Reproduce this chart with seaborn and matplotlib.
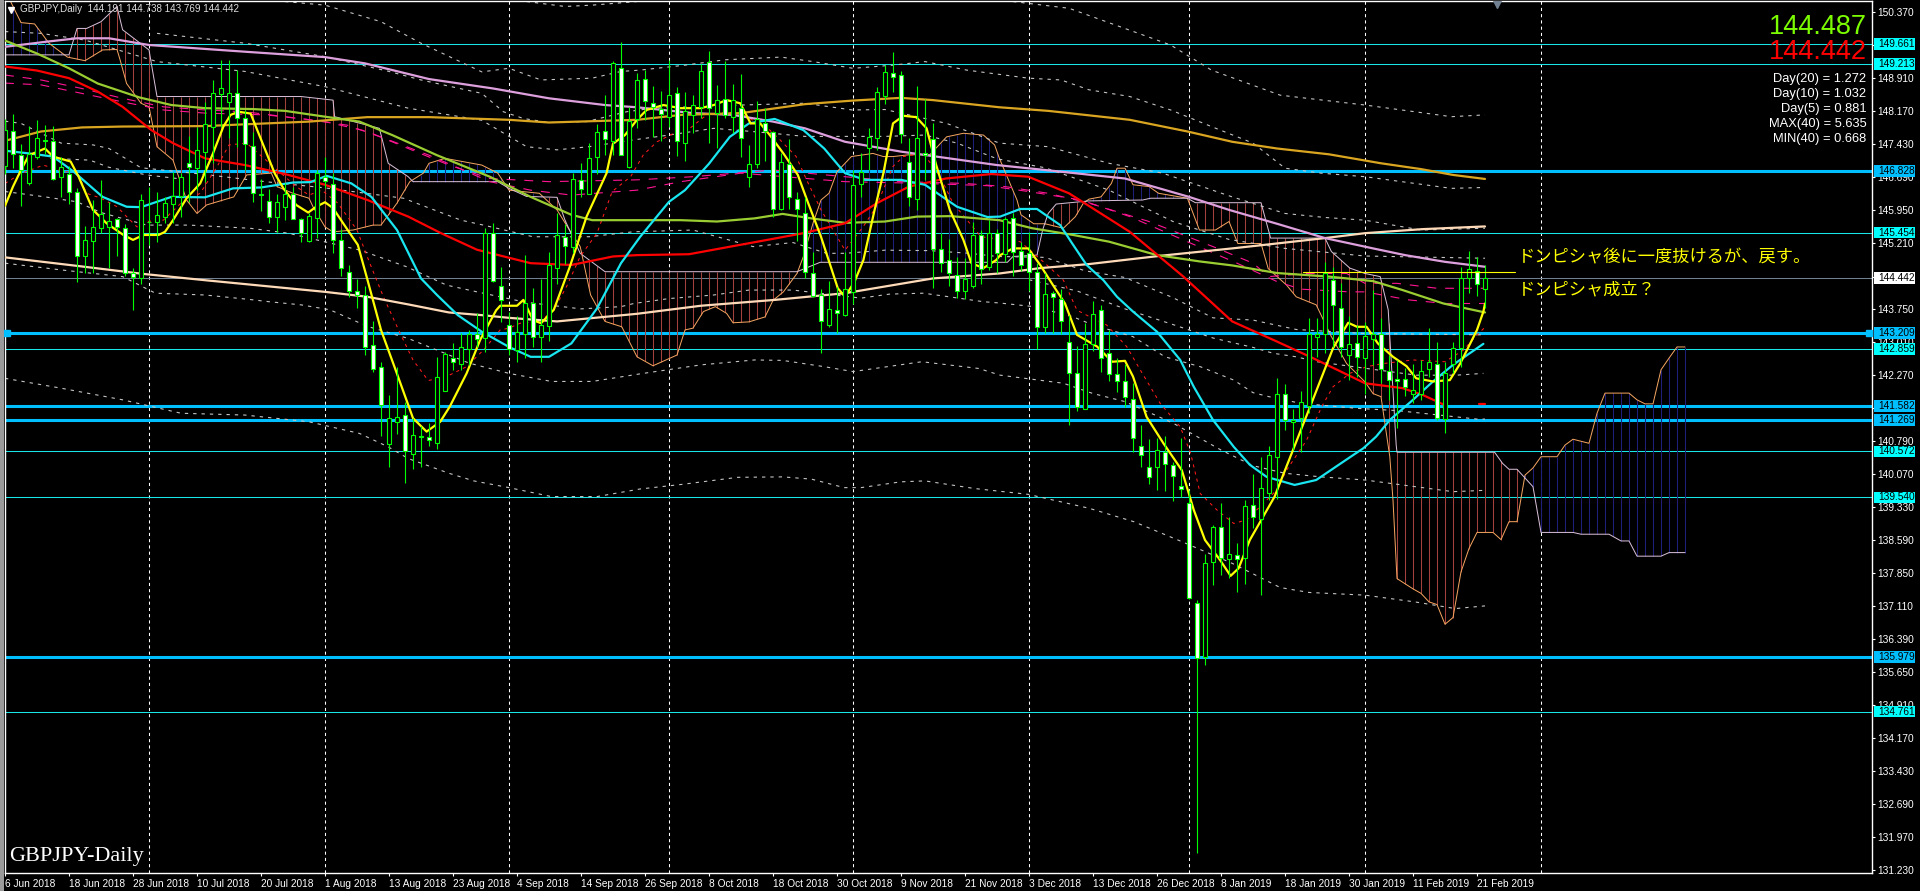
import numpy as np
import matplotlib
matplotlib.use("Agg")
import matplotlib.pyplot as plt
from matplotlib.patches import Rectangle
from matplotlib.transforms import blended_transform_factory
import seaborn as sns

# ---------- candles ----------
open_ = [146.95,147.71,147.18,146.57,147.15,147.53,147.49,146.69,146.75,146.37,144.94,145.27,145.56,145.57,145.75,145.55,144.54,144.45,145.70,145.70,
145.79,146.08,146.28,147.00,146.89,147.26,147.82,148.54,148.37,148.56,148.00,147.39,146.31,146.15,145.81,146.03,146.31,145.75,145.27,145.77,
146.70,146.53,145.28,144.58,144.16,144.07,142.94,142.46,140.74,141.22,141.37,140.52,140.90,140.90,140.76,141.92,142.65,142.53,142.86,143.18,
143.09,145.45,144.27,143.38,142.83,143.19,143.87,143.12,143.37,144.67,145.36,145.14,146.63,146.32,147.13,147.71,147.50,149.12,146.91,147.98,
148.87,148.35,148.22,148.03,148.56,147.45,148.08,148.26,149.27,148.12,148.44,148.04,148.23,146.69,146.98,147.91,147.69,145.99,146.99,146.20,
145.90,144.54,144.05,143.40,143.72,143.62,144.12,146.53,147.33,147.57,148.51,149.01,148.96,147.02,146.20,147.22,147.54,145.08,144.83,144.51,
144.16,144.27,145.41,144.69,145.44,144.97,145.77,145.05,145.00,144.57,143.35,144.11,143.98,143.02,142.31,141.51,142.97,143.72,142.77,142.29,
142.15,141.73,140.70,140.21,140.23,140.55,140.26,139.79,139.41,137.18,135.99,138.11,138.89,138.16,138.26,138.18,139.37,139.06,139.65,140.44,
141.84,141.22,141.31,141.59,143.13,143.20,144.39,143.78,142.73,142.98,142.65,143.07,143.20,142.37,142.18,142.18,141.86,141.85,142.40,142.51,
141.30,142.53,142.87,144.45,144.60,144.191]
high = [147.98,148.10,147.43,147.83,147.97,147.85,147.83,147.15,146.94,146.44,145.60,146.19,146.63,146.14,145.77,145.64,144.66,146.31,146.48,146.35,
146.25,146.81,146.79,147.61,147.82,148.37,148.87,149.30,149.30,149.08,148.19,147.70,146.65,146.42,146.31,146.55,146.48,145.77,145.88,146.85,
147.15,146.78,145.53,144.73,144.41,144.26,143.48,142.56,141.82,142.45,141.68,141.31,141.14,141.20,142.68,142.79,142.98,143.22,143.28,143.65,
145.55,145.66,144.68,143.69,143.58,144.95,144.21,144.41,145.01,145.90,145.64,146.79,147.00,147.45,147.88,148.52,149.28,149.71,148.26,149.02,
149.08,148.72,148.61,149.31,148.70,148.58,148.52,149.22,149.51,148.74,149.29,148.77,148.99,147.40,148.38,148.23,147.73,147.22,147.54,146.37,
146.25,145.01,144.20,144.38,144.23,145.01,146.85,147.24,147.78,148.71,149.19,149.48,149.05,147.56,148.73,148.43,147.91,145.44,145.31,144.90,
144.88,145.70,145.51,145.73,145.53,145.81,145.88,145.25,145.47,144.77,144.54,144.16,144.19,143.61,142.92,143.43,143.93,143.83,143.28,142.65,
142.53,142.09,141.16,140.85,140.86,140.91,140.34,140.87,139.71,137.25,138.27,138.93,139.41,139.10,138.52,139.48,140.06,140.45,140.69,142.20,
142.07,141.51,141.92,143.54,143.54,144.80,144.69,144.32,143.59,143.39,143.46,144.17,143.54,142.72,142.61,142.42,142.53,142.62,143.32,143.02,
142.57,143.02,144.68,145.04,144.91,144.738]
low = [146.77,146.89,146.05,146.51,147.09,147.21,146.63,146.25,146.08,144.36,144.56,144.56,145.44,144.66,144.93,144.49,143.72,144.31,145.17,145.25,
145.66,145.66,145.81,146.14,146.40,146.59,147.00,147.82,147.56,147.36,146.85,146.14,145.94,145.66,145.47,145.73,145.76,145.25,145.25,145.34,
146.44,144.99,144.48,144.02,143.78,142.71,142.35,140.92,140.21,140.95,139.87,140.18,140.21,140.69,140.63,141.92,142.39,142.39,142.50,142.91,
142.79,144.36,143.465,142.72,142.57,142.65,142.91,142.57,143.04,144.30,144.75,144.99,146.24,146.32,146.75,147.18,147.18,147.18,146.89,147.78,
147.97,147.58,147.50,147.80,147.17,147.04,147.68,148.00,147.46,147.33,148.00,147.67,147.13,146.48,146.89,147.04,145.81,145.96,145.99,145.27,
144.43,144.01,142.76,143.34,143.22,143.59,143.87,146.24,146.85,147.30,148.32,148.58,147.45,146.05,145.96,146.63,144.21,144.58,144.26,143.99,
143.96,144.21,144.30,144.62,144.54,144.80,144.48,144.60,144.16,142.85,143.22,143.22,143.20,141.16,141.48,141.51,142.82,142.35,142.13,141.90,
141.55,140.56,140.21,139.84,139.71,139.68,139.47,139.54,137.28,131.60,135.79,137.59,137.81,137.74,137.42,137.62,138.86,137.36,139.49,139.50,
141.05,140.60,140.56,141.42,142.68,142.76,142.91,142.68,142.16,142.24,141.86,142.50,142.09,141.71,141.08,141.80,141.64,141.72,142.24,141.27,
140.99,142.31,142.46,144.10,144.04,143.769]
close = [147.74,147.20,146.84,147.21,147.56,147.49,146.64,146.92,146.37,144.94,145.28,145.57,145.86,145.72,145.57,144.54,144.47,146.17,145.68,145.84,
146.11,146.28,146.69,146.91,147.29,147.87,148.56,148.69,148.56,148.00,147.42,146.34,146.30,145.81,146.13,146.31,145.76,145.44,145.82,146.79,
146.61,145.28,144.66,144.16,144.07,142.91,142.41,141.60,141.31,141.33,140.57,140.93,140.92,140.82,142.24,142.74,142.56,142.89,143.19,143.07,
145.44,144.38,143.94,142.85,143.24,143.87,143.12,143.40,144.74,145.41,145.15,146.64,146.43,147.11,147.69,147.55,149.23,147.19,147.94,148.85,
148.38,148.25,148.10,148.52,147.50,148.17,148.31,149.07,148.23,148.42,148.07,148.41,147.56,146.98,147.98,147.71,145.99,147.02,146.24,145.98,
144.57,144.03,143.49,143.74,143.65,144.19,146.51,146.80,147.58,148.58,149.03,148.92,147.65,146.24,147.56,147.19,145.08,144.77,144.54,144.14,
144.41,145.39,144.63,145.45,144.99,145.75,145.03,144.74,144.57,143.35,144.09,144.01,143.49,142.31,141.57,142.96,143.63,142.65,142.29,142.15,
141.79,140.86,140.48,139.99,140.59,140.28,140.01,139.72,137.29,135.95,138.07,138.89,138.20,138.27,138.17,139.36,139.10,139.76,140.49,141.84,
141.26,141.27,141.68,143.20,143.18,144.54,143.83,142.91,142.96,142.67,143.15,143.20,142.40,142.16,142.13,142.00,141.94,142.37,142.56,141.32,
142.31,142.87,144.45,144.63,144.30,144.442]

# ---------- moving averages (bar index, price) ----------
plum_x = [0,5,9,13,18,30,40,45,53,61,68,75,79,86,91,96,100,105,112,118,124,130,140,148,153,159,165,171,175,180,185]
plum_y = [149.60,149.71,149.79,149.79,149.64,149.49,149.37,149.23,148.88,148.67,148.45,148.30,148.25,148.12,148.08,147.93,147.78,147.48,147.26,147.11,146.96,146.85,146.66,146.25,145.96,145.65,145.33,145.10,144.95,144.80,144.69]
gold_x = [0.4,4.5,9.6,14.7,25,30,38,45.3,53,63,68,79,84.5,92,100,106,112,116,124.3,130.4,140.6,147.8,153.4,159,165.5,172,177,181,185]
gold_y = [147.52,147.71,147.80,147.82,147.83,147.87,147.93,148.03,148.03,147.97,147.91,147.97,148.08,148.12,148.32,148.40,148.46,148.41,148.25,148.17,147.97,147.71,147.48,147.33,147.20,147.00,146.87,146.74,146.65]
green_x = [0,4,8,11.6,16.8,20.8,25,31,35,40,44.3,48.4,54,60.6,65.7,70.8,73.4,79,84.5,89,93.7,97.2,100.8,105,110,114,118.2,124.3,128.4,133.5,138,144,149.3,153.4,159,165.5,171,174.7,179.8,185]
green_y = [149.74,149.45,149.12,148.78,148.47,148.30,148.23,148.21,148.17,148.04,147.93,147.63,147.18,146.70,146.25,145.85,145.73,145.73,145.73,145.70,145.77,145.87,145.77,145.67,145.70,145.81,145.82,145.73,145.55,145.40,145.25,144.95,144.81,144.72,144.55,144.47,144.37,144.17,143.87,143.67]
red_x = [0,4,8,11.6,14.7,18.3,21,25,30,35,40,45.3,50.4,54.5,59,65.7,70.8,76,79,85.5,91,96.2,99.8,105,109,113,117.6,123.3,127.9,133,140.6,147.3,153.4,159,163.5,170,174.7,177.2,180]
red_y = [149.16,149.07,148.90,148.60,148.26,147.74,147.45,147.11,146.96,146.76,146.52,146.18,145.81,145.44,145.07,144.77,144.73,144.92,144.95,144.97,145.15,145.32,145.44,145.66,146.11,146.48,146.66,146.76,146.70,146.33,145.47,144.47,143.47,143.02,142.65,142.09,141.98,141.83,141.60]
red_end_x = [184.2,185]
red_end_y = [141.62,141.62]
cyan_x = [0,3,6,8.6,12.2,15.2,17,20.8,25,28.5,32,36,38.2,40.2,43.3,45.8,49,52,54,56.6,59.6,63,65.7,68,70.8,74,77,79.4,83,85,88,90.6,93,96.2,99.8,102.4,105,107.5,112,115,119,122.8,124.4,126.9,129,131.9,133.4,135.2,137.3,139,141,144,146.9,148.6,151,153.6,155.6,157.7,161.2,163.9,167.3,169.8,171.4,173.1,176,178.5,181,184.8]
cyan_y = [147.28,147.22,147.15,146.81,146.25,146.03,146.02,146.25,146.24,146.44,146.46,146.57,146.58,146.72,146.55,146.25,145.51,144.43,144.06,143.61,143.24,142.90,142.68,142.68,142.98,143.76,144.77,145.36,146.14,146.40,146.99,147.59,147.89,147.99,147.74,147.33,146.78,146.63,146.63,146.52,146.03,145.80,145.81,145.98,145.98,145.62,145.21,144.73,144.39,144.02,143.69,143.24,142.61,142.01,141.27,140.67,140.27,140.00,139.82,139.93,140.34,140.64,140.90,141.27,141.72,142.13,142.50,142.97]
yellow_x = [0,1,2,3,5,6,8.2,9.2,11,12.7,14.8,16,17.3,19.2,20,21,22.7,24.4,26,27.3,28.2,29.2,30.7,33.7,34.8,36.4,37.9,38.9,40,41,43.1,44.1,45.2,47,48.9,51,52.7,54.4,55.6,57.7,59.4,61.4,61.9,64,64.8,66,67,68.6,70.6,72.7,75.2,76,77.5,79,80.2,82.3,84.4,86.9,88.6,90.2,91.9,93.2,94.4,95.6,97.3,99.1,100.4,102,104.1,105,106.2,107.3,108.7,109.8,111,112.3,113.9,115.2,116.4,118.1,119.8,120.8,122.3,123.9,124.4,126,127.9,129.4,131,132.5,134,136.5,138.4,140,141,142.7,144.8,147.1,148.6,150,151.9,153.2,154.2,155.6,158.7,161,163.3,166,167.9,169,170.2,171.6,173.5,175.2,176.4,178.5,180.6,181.9,184,184.8,185]
yellow_y = [146.05,146.48,146.85,147.18,147.33,147.15,147.04,146.70,145.96,145.66,145.40,145.29,145.40,145.40,145.47,145.73,146.22,146.55,147.22,147.82,148.08,148.15,148.11,146.78,146.44,146.07,145.90,146.03,146.13,146.00,145.44,145.18,144.47,143.28,142.35,141.31,141.01,141.23,141.57,142.31,143.06,143.72,143.82,143.82,143.95,143.50,143.43,143.73,144.69,145.81,146.78,147.44,147.63,147.97,148.19,148.30,148.23,148.23,148.30,148.41,148.34,147.89,147.89,147.63,147.22,146.74,146.11,145.36,144.21,144.02,144.36,144.84,145.96,146.78,147.89,148.06,148.03,147.78,146.96,145.96,145.29,144.77,144.66,144.84,144.95,145.10,145.10,144.73,144.28,143.87,143.17,142.91,142.57,142.59,142.24,141.34,140.75,140.15,139.26,138.59,138.14,137.79,137.96,138.59,139.56,140.60,141.64,142.87,143.44,143.35,143.35,142.98,142.68,142.47,142.20,142.13,142.16,142.53,143.28,143.69,143.87]
peach_x = [0,9,17.3,25,40,45.3,50.4,55.5,59.6,63,69,79,87,96.2,105,111,116,124.3,129.4,135.5,144.7,153.4,159,165,170,177.2,185]
peach_y = [144.90,144.71,144.53,144.39,144.13,144.02,143.85,143.67,143.61,143.55,143.47,143.64,143.82,143.95,144.10,144.28,144.43,144.54,144.66,144.75,144.94,145.10,145.21,145.33,145.44,145.53,145.59]
pinkA_x = [0,4.5,9.6,14.7,19.8,25,30,35,40,45.3,50.4,55.5,60.6,68,79,86,96,105,112,120,125,130.4,135.5,143,151,156,158,162.7,167.7,170,174,179,185]
pinkA_y = [148.97,148.86,148.67,148.45,148.26,148.19,148.15,148.04,147.93,147.71,147.33,146.96,146.66,146.59,146.63,146.70,146.85,146.70,146.59,146.55,146.48,146.33,146.11,145.70,145.14,144.77,144.47,144.54,144.54,144.32,144.32,144.21,144.21]
pinkB_x = [0,4.5,9.6,14.7,19.8,25,32.6,37.7,42.8,48,53,60.6,65.7,70.8,79,84.5,92,105,115,122.8,127.9,134.5,140.6,148.3,154,159,162,168,170,175.5,180,185]
pinkB_y = [148.79,148.75,148.56,148.37,148.19,148.12,148.08,147.98,147.85,147.52,147.18,146.59,146.40,146.29,146.40,146.59,146.78,146.59,146.55,146.50,146.37,146.18,145.81,145.21,144.77,144.36,144.19,144.13,144.13,143.95,143.87,143.87]
signal_x = [0,2,4.8,7.3,9,10.2,12,14,15.2,16.5,17.7,19.8,22,24.4,26.5,28,30.2,36.4,38,39.6,41.6,44,45.6,47.3,49.4,51,52.9,55.2,57.7,59.8,61.9,63,64.4,66.9,68.6,70.2,71.9,74,75.9,78.2,79.8,81.5,83.6,85.6,87.7,90.2,92.3,95.6,96.9,98.9,100.2,102,105,107.3,108.9,111,112.3,114.8,116.9,118.5,120.6,122,126.9,129.8,132.3,134,135.2,137.7,140.2,141.9,144.4,146.9,148.2,149.4,151.5,153.6,155.2,159,160.2,162.7,164.6,166,168.1,170.2,172.3,176,180,182.3,184,185]
signal_y = [146.55,146.77,146.96,146.81,146.81,146.33,146.22,146.03,145.81,145.58,145.70,145.73,146.11,146.33,146.92,147.41,147.45,146.48,146.29,146.40,146.11,145.51,144.77,144.02,143.20,142.61,142.15,142.24,142.46,142.83,143.28,143.32,143.43,143.47,143.73,144.25,144.92,145.44,146.37,146.70,147.19,147.48,147.67,147.78,148.08,148.15,148.08,147.74,147.52,147.15,146.63,145.96,145.06,145.59,146.03,146.93,147.15,147.22,146.70,146.11,145.66,145.36,145.25,144.80,144.39,143.72,143.61,143.39,142.91,142.39,141.64,141.12,140.53,139.63,139.26,138.96,139.04,139.71,140.15,140.82,141.57,142.01,142.31,142.46,142.53,142.61,142.57,142.83,143.17,143.34]

# ---------- dotted envelope curves ----------
env0a_x = [65.2,70,73.4,79]
env0a_y = [150.61,150.50,150.53,150.61]
env0b_x = [126,133,140.6,145.7,150.8,159.4,170,180.8,185]
env0b_y = [150.61,150.46,149.97,149.64,149.08,148.52,148.30,148.04,148.08]
env1_x = [35,40,47,52,59.6,63,67,73.4,77,79.4,85,90,97,101,106,111,115,120.2,127.9,132,135.5,140.6,145.7,150.8,156,160,164.5,170,180.8,185]
env1_y = [150.61,150.53,150.16,149.68,149.04,149.12,148.86,148.90,149.05,149.08,149.19,149.31,149.37,149.27,149.12,149.19,149.27,149.08,148.90,148.86,148.64,148.49,148.19,147.82,147.45,146.89,146.78,146.70,146.44,146.46]
env2_x = [19,30,40,48,52,59.6,62.3,64.8,68,72.7,77.7,81,92,100,105.9,110,117.7,124.3,130.4,138,144.7,153.4,160,165,170,177,185]
env2_y = [149.90,149.68,149.38,149.05,148.86,148.56,148.15,148.00,147.91,147.93,148.15,148.23,148.30,148.34,148.19,148.20,147.89,147.45,147.37,147.00,146.78,146.25,145.88,145.79,145.73,145.51,145.55]
env3_x = [0,4.5,10,19,30,40,50.4,59.6,65.2,69,73,78.5,83,88.6,94,100,105,110,115,119,124,130,138,146,153,160,170,185]
env3_y = [149.94,149.90,149.75,149.27,149.05,148.71,148.23,147.96,147.37,147.30,147.37,147.52,147.63,147.78,147.70,147.60,147.60,147.60,147.63,147.45,147.10,146.90,146.40,145.70,145.30,145.10,144.93,144.88]
env4_x = [0,2,7,11,13,17,25,32,40,49.8,57,59.8,66,73,78.5,86,93.5,98.5,102.7,105,110,115.6,120.6,124,130,135,140,146,151,156,161.4,170,180,185]
env4_y = [147.94,147.89,147.45,147.41,147.33,146.90,146.75,146.60,146.45,146.22,145.73,145.62,145.36,145.36,145.47,145.51,145.14,145.23,144.99,144.99,145.06,145.05,144.99,144.92,144.90,144.60,144.45,144.00,143.55,143.50,143.29,143.20,143.18,143.17]
env5_x = [5.7,10.6,13,17.7,22]
env5_y = [147.11,147.07,146.91,146.74,146.65]
env6_x = [128,134,140,146,151,156,158.5,161.4,164,176.4,181.4,184.8]
env6_y = [144.40,144.15,143.75,143.40,143.10,142.89,142.76,142.68,142.57,142.27,142.27,142.31]
env7_x = [0,5,9,12,17.7,23,30.6,35.4,44.4,50.2,55.2,59,65,72,77,78.6,83,88.6,93,98.5,107,110.6,114.8,118,122.3,124.4,128.6,133.4,136,141,145,149.4,153.6,156,158,162,169,174,184,185]
env7_y = [146.37,146.25,146.14,145.90,145.62,145.62,145.55,145.44,145.06,144.69,144.28,144.13,143.90,143.75,143.80,143.87,143.98,144.06,144.17,144.17,143.99,144.08,144.10,144.02,143.91,143.88,143.80,143.58,143.39,143.13,142.68,142.46,142.16,141.88,141.79,141.64,141.53,141.48,141.29,141.29]
env8_x = [0,7,14.7,18.8,25,30.6,33,37,40.6,45.3,50.4,58,63,68.3,73.4,79.4,87,93.7,97.2,102.4,106,114.6,121.7,124.4,132.3,136,140,146,152,156,160,164.5,170,181,185]
env8_y = [144.77,144.62,144.47,144.10,144.06,143.96,143.91,143.84,143.73,143.36,143.09,142.54,142.31,142.13,142.13,142.30,142.50,142.61,142.60,142.46,142.35,142.57,142.42,142.27,142.09,141.86,141.68,141.20,140.60,140.25,140.08,140.00,139.93,139.67,139.70]
env9_x = [0,7,14.7,22,30,38,44.3,47.9,50.4,55.5,58.6,63,68.3,74,79.4,84.5,91.6,97.2,100.8,104.9,107,112,115,121.2,127.9,135.5,141.1,147.3,153.4,159.4,163,170,176.2,181.3,185]
env9_y = [142.20,141.98,141.72,141.42,141.38,141.23,140.97,140.67,140.41,140.08,139.91,139.76,139.56,139.56,139.73,139.83,139.99,140.00,139.95,139.76,139.76,139.89,139.91,139.74,139.61,139.30,139.00,138.54,138.07,137.53,137.42,137.36,137.21,137.06,137.12]

# ---------- Ichimoku cloud ----------
spanA_x = [0.7,2,3.7,5.5,7.8,10,12.2,14,14.4,15.2,17,18,19,21,22.7,24,25.2,28.6,30.2,33.3,34,36,38,38.5,40,41,43.5,46,47,49,50.6,52.3,53,55,59.6,61.6,63,66.8,69,70.8,71.9,73.2,75,77.1,79,81,84,85,86,87.3,88.8,90.2,91,93,95,96,97.3,99,99.8,101,102,103,104,105.8,108.5,109.8,111,113,115.6,117.7,119.8,122.3,123.7,124.3,126.5,127,128.6,130,132.3,133.8,134.8,135.5,137,138.3,139,140,141,143,144.2,147.8,149.3,151.3,153,154.1,157,157.9,160.2,161.4,163.9,165.8,167.7,170,171,172,172.3,173.1,173.5,174,176,177,178,179,180,181,182,183,184,186,187,188,189,190,191,192,194,195,196,198,199,200,203,204,205,206,207,208,209,210]
spanA_y = [150.61,150.14,150.11,149.68,149.37,149.29,149.53,149.54,149.30,148.78,148.34,148.26,147.37,147.07,146.18,145.88,146.07,146.25,146.74,146.78,146.48,146.33,146.22,146.03,145.58,145.47,145.51,145.62,145.62,146.11,146.59,146.78,147.00,147.11,146.96,146.78,146.40,146.33,145.96,145.44,145.14,144.06,143.47,143.35,142.68,142.48,142.72,143.28,143.32,143.69,143.80,143.65,143.44,143.46,143.57,143.94,144.13,144.54,144.92,145.66,146.18,146.33,146.81,147.15,147.22,147.15,147.15,147.19,147.19,147.59,147.67,147.63,147.41,147.11,146.18,145.85,145.65,145.65,145.55,145.81,146.11,146.20,146.25,146.55,146.89,146.89,146.52,146.48,146.33,146.22,145.51,145.51,145.70,145.21,145.21,144.65,144.28,144.02,143.84,143.13,142.53,142.12,141.86,141.79,141.42,140.45,139.48,137.73,137.50,137.40,137.21,137.15,136.71,136.86,137.88,138.40,138.76,138.76,138.60,139.00,139.00,140.04,140.20,140.45,140.45,140.71,140.84,140.75,141.42,141.87,141.87,141.72,141.63,141.63,142.39,142.65,142.90,142.90]
spanB_x = [0,8,9,10.2,12,14,14.7,18,19,37,41,41.2,46.8,47.9,50.4,51,61.6,63,65.2,69,70,71.9,75,99,101.9,125.3,126,129,129.7,130.4,131.4,135.5,142.2,143.2,147.8,148.8,157,158.2,165,165.8,168.1,170,171.9,172.9,173.9,174,186.2,187.2,188,189,191,192,196,197,200.5,202,203,204,207,208,210]
spanB_y = [149.42,149.42,150.01,150.01,150.16,150.50,149.98,149.53,148.49,148.49,148.41,148.04,147.78,147.00,146.70,146.59,146.59,146.44,146.26,146.24,145.73,144.99,144.58,144.58,144.79,144.79,144.92,144.95,145.51,145.88,146.09,146.16,146.18,146.22,146.22,146.12,146.12,145.33,145.33,145.03,144.66,144.54,144.47,143.73,140.71,140.55,140.55,140.30,140.17,140.17,139.78,138.76,138.76,138.72,138.72,138.57,138.57,138.23,138.23,138.31,138.31]

# ---------- levels and texts ----------
thin_levels = [149.661,149.213,145.454,142.859,140.572,139.540,134.761]
thick_levels = [146.828,143.209,141.582,141.269,135.979]
last_price = 144.442
trend_level = 144.565
trend_from, trend_to = 162.2, 188.7
vlines_at = [18,40,63,83,106,128,148,170,192]
price_ticks = [150.370,149.640,148.910,148.170,147.430,146.690,145.950,145.210,144.470,143.750,143.010,142.270,141.530,140.790,140.070,139.330,138.590,137.850,137.110,136.390,135.650,134.910,134.170,133.430,132.690,131.970,131.230]
date_labels = ["6 Jun 2018","18 Jun 2018","28 Jun 2018","10 Jul 2018","20 Jul 2018","1 Aug 2018","13 Aug 2018","23 Aug 2018","4 Sep 2018","14 Sep 2018","26 Sep 2018","8 Oct 2018","18 Oct 2018","30 Oct 2018","9 Nov 2018","21 Nov 2018","3 Dec 2018","13 Dec 2018","26 Dec 2018","8 Jan 2019","18 Jan 2019","30 Jan 2019","11 Feb 2019","21 Feb 2019"]
date_ticks = list(range(0, 192, 8))
stats = ["Day(20) = 1.272","Day(10) = 1.032","Day(5) = 0.881","MAX(40) = 5.635","MIN(40) = 0.668"]

# ---------- figure ----------
W, H = 1920, 891
sns.set_theme(style="dark", rc={"figure.facecolor": "black", "axes.facecolor": "black"})
plt.rcParams["font.family"] = ["Liberation Sans", "DejaVu Sans"]
fig = plt.figure(figsize=(W / 100, H / 100), dpi=100, facecolor="black")
L, R, T, B = 4.5, 1872, 1, 873
ax = fig.add_axes([L / W, (H - B) / H, (R - L) / W, (B - T) / H], facecolor="black")
ax.set_axisbelow(True)
ax.grid(False)

xmin = (L - 5) / 8
xmax = (R - 5) / 8
ymax = 150.37 + (12.3 - T) / 44.8
ymin = 150.37 - (B - 12.3) / 44.8

fig.add_artist(Rectangle((0, 0), 3.5 / W, 1, transform=fig.transFigure, facecolor="#9a9a9a", edgecolor="none"))


def draw(xs, ys, color, lw, z, dash=None):
    sns.lineplot(x=xs, y=ys, ax=ax, color=color, linewidth=lw, estimator=None,
                 sort=False, errorbar=None, legend=False, zorder=z)
    line = ax.lines[-1]
    if dash is not None:
        line.set_linestyle((0, dash))
    return line


# horizontal levels and verticals
for v in vlines_at:
    ax.axvline(v, color="white", lw=0.75, ls=(0, (3, 3)), zorder=1)
for v in thin_levels:
    ax.axhline(v, color="#19e6e6", lw=0.75, zorder=1.2)
for v in thick_levels:
    ax.axhline(v, color="#00bfff", lw=2.2, zorder=1.2)
ax.axhline(last_price, color="#708090", lw=0.75, zorder=1.1)

# cloud
bars = np.arange(1, 211)
a_vals = np.interp(bars, spanA_x, spanA_y)
b_vals = np.interp(bars, spanB_x, spanB_y)
ax.vlines(bars, a_vals, b_vals, colors=["#1f1f7a" if a > b else "#a3423c" for a, b in zip(a_vals, b_vals)],
          lw=0.75, zorder=1.5)
draw(spanA_x, spanA_y, "#f4a460", 0.72, 1.7)
draw(spanB_x, spanB_y, "#d8bfd8", 0.72, 1.7)

# dotted curves
for xs, ys in [(env0a_x, env0a_y), (env0b_x, env0b_y), (env1_x, env1_y), (env2_x, env2_y), (env3_x, env3_y),
               (env4_x, env4_y), (env5_x, env5_y), (env6_x, env6_y), (env7_x, env7_y), (env8_x, env8_y), (env9_x, env9_y)]:
    draw(xs, ys, "#c4c4c4", 0.8, 2, dash=(3, 4.5))

# averages
draw(pinkA_x, pinkA_y, "#ff1493", 0.8, 2.2, dash=(8, 8))
draw(pinkB_x, pinkB_y, "#ff1493", 0.8, 2.2, dash=(8, 8))
draw(signal_x, signal_y, "#ff1a1a", 0.75, 2.3, dash=(3, 4))
draw(peach_x, peach_y, "#ffdab9", 1.6, 3)
draw(plum_x, plum_y, "#dda0dd", 1.6, 3)
draw(gold_x, gold_y, "#daa520", 1.6, 3)
draw(green_x, green_y, "#9acd32", 1.6, 3)
draw(red_x, red_y, "#ff0000", 1.6, 3.1)
draw(red_end_x, red_end_y, "#ff0000", 1.6, 3.1)
draw(cyan_x, cyan_y, "#19e6f0", 1.6, 3.1)
draw(yellow_x, yellow_y, "#ffff00", 1.6, 3.2)

# candles
idx = np.arange(len(open_))
o_arr, h_arr, l_arr, c_arr = map(np.array, (open_, high, low, close))
ax.vlines(idx, l_arr, h_arr, colors="#00ff00", lw=0.8, zorder=4)
tops = np.maximum(o_arr, c_arr)
bots = np.minimum(o_arr, c_arr)
fills = ["black" if c >= o else "white" for o, c in zip(open_, close)]
ax.bar(idx, tops - bots, bottom=bots, width=0.58, color=fills, edgecolor="#00ff00", linewidth=0.8, zorder=5)

# trend line and handles
ax.plot([trend_from, trend_to], [trend_level, trend_level], color="#ffff00", lw=0.8, zorder=5.5)
ax.plot([0.25, 232.95], [thick_levels[1], thick_levels[1]], ls="none", marker="s", ms=4.5, color="#00bfff",
        zorder=6, clip_on=False)
ax.plot([186.5], [150.56], ls="none", marker="v", ms=6, color="#708090", zorder=6)
ax.plot([0.75], [150.42], ls="none", marker="v", ms=5, color="white", zorder=6)

# axes
ax.set_xlim(xmin, xmax)
ax.set_ylim(ymin, ymax)
for s in ax.spines.values():
    s.set_color("white")
    s.set_linewidth(1.0)
ax.yaxis.tick_right()
ax.set_yticks(price_ticks)
ax.set_yticklabels([f"{v:.3f}" for v in price_ticks], fontsize=7.3, color="white")
ax.set_xticks(date_ticks)
ax.set_xticklabels(date_labels, fontsize=7.3, color="white", ha="left")
ax.tick_params(axis="both", colors="white", length=2.5, width=0.8, pad=1.5, bottom=True, right=True, left=False)
ax.set_xlabel("")
ax.set_ylabel("")

# price boxes
btr = blended_transform_factory(ax.transAxes, ax.transData)
box_x = 1 + 2.0 / (R - L)
box_w = 41.0 / (R - L)
box_h = 11.5 / 44.8
for v, face in [(v, "#00ffff") for v in thin_levels] + [(v, "#00bfff") for v in thick_levels] + [(last_price, "white")]:
    ax.add_patch(Rectangle((box_x, v - box_h / 2), box_w, box_h, transform=btr, facecolor=face, edgecolor="none",
                           clip_on=False, zorder=9))
    ax.text(box_x + 4 / (R - L), v, f"{v:.3f}", transform=btr, fontsize=7.3, color="black", ha="left", va="center",
            zorder=10, clip_on=False)


def px_text(x, y, s, **kw):
    fig.text(x / W, 1 - y / H, s, **kw)


px_text(20, 9, "GBPJPY,Daily  144.191 144.738 143.769 144.442", fontsize=7.1, color="#dcdcdc", va="center", ha="left")
px_text(1866.5, 27, "144.487", fontsize=19.5, color="#7cfc00", ha="right", va="center")
px_text(1866.5, 52, "144.442", fontsize=19.5, color="#ff0000", ha="right", va="center")
for k, s in enumerate(stats):
    px_text(1866.5, 79 + 15 * k, s, fontsize=9.3, color="white", ha="right", va="center")
px_text(1518, 257, "ドンピシャ後に一度抜けるが、戻す。", fontsize=12.4, color="#ffff00", ha="left", va="center",
        family=["Noto Sans CJK JP", "DejaVu Sans"])
px_text(1518, 289, "ドンピシャ成立？", fontsize=12.4, color="#ffff00", ha="left", va="center",
        family=["Noto Sans CJK JP", "DejaVu Sans"])
px_text(9, 856, "GBPJPY-Daily", fontsize=16, color="white", ha="left", va="center", family="Liberation Serif")

fig.savefig("out.png", dpi=100, facecolor="black")
